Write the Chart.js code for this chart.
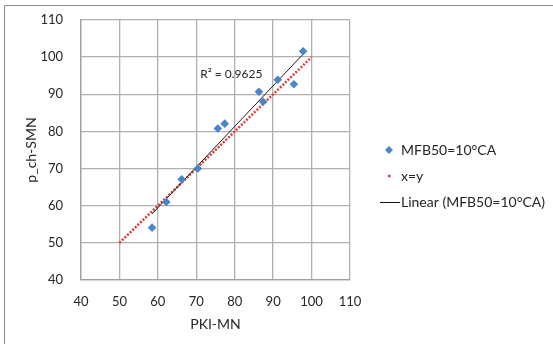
<!DOCTYPE html>
<html><head><meta charset="utf-8">
<script src="https://cdn.jsdelivr.net/npm/chart.js@4"></script>
<style>html,body{margin:0;padding:0;background:#fff}#wrap{position:relative;width:553px;height:344px}</style>
</head><body><div id="wrap"><canvas id="c"></canvas></div>
<script>
// ---- data ----
const pkiMN  = [58.5, 62.2, 66.2, 70.4, 75.6, 77.4, 86.3, 87.4, 91.2, 95.4, 97.8];
const pChSMN = [54.1, 61.0, 67.1, 70.0, 80.8, 82.1, 90.7, 88.0, 93.9, 92.7, 101.6];
const identityRange = [50, 100];
const seriesNames = ['MFB50=10°CA', 'x=y', 'Linear (MFB50=10°CA)'];
const xTitle = 'PKI-MN';
const yTitle = 'p_ch-SMN';
const r2Text = 'R² = 0.9625';
const r2Anchor = [71.0, 95.5];
const axisMin = 40, axisMax = 110, axisStep = 10;

// least-squares trendline from the data
const n = pkiMN.length;
const mx = pkiMN.reduce((a,b)=>a+b,0)/n, my = pChSMN.reduce((a,b)=>a+b,0)/n;
let sxy = 0, sxx = 0;
for (let i=0;i<n;i++){ sxy += (pkiMN[i]-mx)*(pChSMN[i]-my); sxx += (pkiMN[i]-mx)**2; }
const slope = sxy/sxx, icpt = my - slope*mx;
const xLo = Math.min(...pkiMN), xHi = Math.max(...pkiMN);

const FONT = 'Lato';
const TXT = '#262626';
const BLUE = '#4a85c6';
const RED = '#dd3c36';

const decor = {
  id: 'decor',
  beforeDraw(chart){
    const ctx = chart.ctx; ctx.save();
    ctx.strokeStyle = '#8c8c8c'; ctx.lineWidth = 1;
    ctx.beginPath(); ctx.moveTo(4.5, 344); ctx.lineTo(4.5, 5.5); ctx.lineTo(553, 5.5); ctx.stroke();
    ctx.restore();
  },
  afterDraw(chart){
    const ctx = chart.ctx; const xs = chart.scales.x, ys = chart.scales.y;
    ctx.save();
    // R² label
    ctx.fillStyle = TXT; ctx.font = '12px ' + FONT; ctx.textBaseline = 'middle'; ctx.textAlign = 'left';
    ctx.fillText(r2Text, xs.getPixelForValue(r2Anchor[0]), ys.getPixelForValue(r2Anchor[1]));
    // legend
    const lx = 401, rows = [150, 176, 202];
    ctx.font = '14px ' + FONT;
    seriesNames.forEach((t,i)=>ctx.fillText(t, lx, rows[i]));
    // diamond
    ctx.fillStyle = BLUE; ctx.beginPath();
    const dx = 389, dy = rows[0], r = 4;
    ctx.moveTo(dx, dy-r); ctx.lineTo(dx+r, dy); ctx.lineTo(dx, dy+r); ctx.lineTo(dx-r, dy); ctx.closePath(); ctx.fill();
    // red dot
    ctx.fillStyle = RED; ctx.fillRect(388, rows[1]-1.2, 2.5, 2.5);
    // black line
    ctx.strokeStyle = '#111'; ctx.lineWidth = 1; ctx.beginPath(); ctx.moveTo(380, rows[2]+0.5); ctx.lineTo(400, rows[2]+0.5); ctx.stroke();
    ctx.restore();
  }
};

function build(){
  new Chart(document.getElementById('c'), {
    type: 'scatter',
    data: {
      datasets: [
        { label: seriesNames[0], data: pkiMN.map((x,i)=>({x, y: pChSMN[i]})),
          pointStyle: 'rectRot', pointRadius: 4.3, backgroundColor: BLUE, borderColor: BLUE, borderWidth: 0, order: 1 },
        { label: seriesNames[1], type: 'line', data: identityRange.map(v=>({x:v, y:v})),
          showLine: true, borderColor: RED, borderWidth: 2.5, borderDash: [2, 1.6], pointRadius: 0, fill: false, order: 3 },
        { label: seriesNames[2], type: 'line', data: [{x:xLo, y: icpt+slope*xLo}, {x:xHi, y: icpt+slope*xHi}],
          showLine: true, borderColor: '#1a1a1a', borderWidth: 1, pointRadius: 0, fill: false, order: 2 }
      ]
    },
    options: {
      responsive: true, maintainAspectRatio: false, animation: false,
      layout: { padding: { left: 0, top: 20, right: 203, bottom: 0 } },
      plugins: { legend: { display: false }, tooltip: { enabled: false } },
      scales: {
        x: {
          type: 'linear', min: axisMin, max: axisMax,
          ticks: { stepSize: axisStep, padding: 14, color: TXT, font: { family: FONT, size: 13 } },
          grid: { color: '#b0b0b0', lineWidth: 1.3, drawTicks: false },
          border: { color: '#a0a0a0', width: 1.3 },
          title: { display: true, text: xTitle, color: TXT, font: { family: FONT, size: 14 }, padding: { top: 0, bottom: 11.6 } },
          afterFit(s){ s.height = 64; s.paddingLeft = 0; s.paddingRight = 0; }
        },
        y: {
          type: 'linear', min: axisMin, max: axisMax,
          ticks: { stepSize: axisStep, padding: 18, color: TXT, font: { family: FONT, size: 13 } },
          grid: { color: '#b0b0b0', lineWidth: 1.3, drawTicks: false },
          border: { color: '#a0a0a0', width: 1.3 },
          title: { display: true, text: yTitle, color: TXT, font: { family: FONT, size: 14 }, padding: { top: 23.3, bottom: 0 } },
          afterFit(s){ s.width = 81; s.paddingTop = 0; s.paddingBottom = 0; }
        }
      }
    },
    plugins: [decor]
  });
}
Promise.all([document.fonts.load('14px Lato'), document.fonts.load('12px Lato')]).then(build, build);
</script>
</body></html>
